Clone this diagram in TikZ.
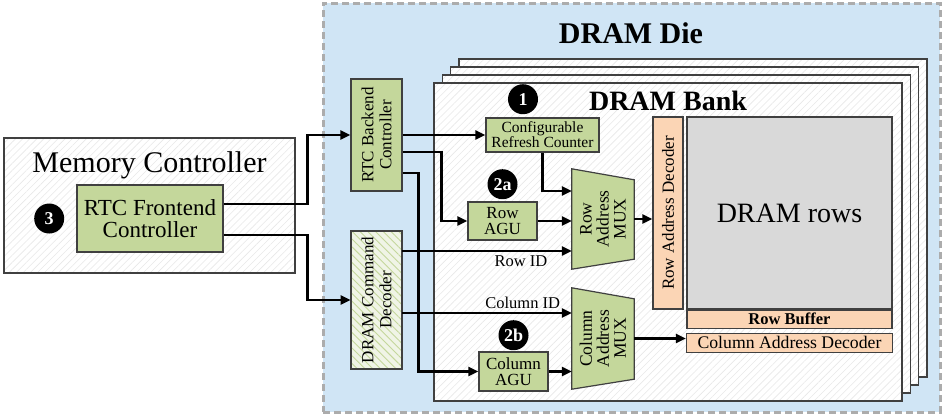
\documentclass[tikz,border=0pt]{standalone}
\usepackage{fontspec}
\setmainfont{Liberation Serif}
\usetikzlibrary{arrows.meta, positioning, calc, patterns.meta}

\definecolor{agugreen}{RGB}{196,215,155}
\definecolor{dieblue}{RGB}{208,229,245}
\definecolor{decpeach}{RGB}{251,213,181}
\definecolor{rowgray}{RGB}{217,217,217}
\definecolor{edgegray}{RGB}{64,64,64}
\definecolor{cmdbg}{RGB}{240,244,230}
\newcommand{\fsz}[2]{\fontsize{#1}{#2}\selectfont}

\begin{document}
\begin{tikzpicture}[x=1pt, y=-1pt,
	block/.style = {rectangle, draw=edgegray, line width=1.2pt, fill=agugreen, align=center, inner sep=0pt, font=\fsz{17}{16.5}},
	vtext/.style = {% rotated text inside a box
		label={[rotate=90, align=center, font=\fsz{17}{18}]center:#1}},
	hatched/.style = {preaction={fill=white}, pattern={Lines[angle=45, distance=5pt, line width=0.6pt]}, pattern color=black!9},
	bankbox/.style = {rectangle, draw=edgegray, line width=1.2pt, hatched, minimum width=468pt, minimum height=318pt},
	peach/.style = {block, fill=decpeach},
	muxbox/.style = {draw=edgegray, line width=1.2pt, fill=agugreen},
	muxtext/.style = {rotate=90, align=center, font=\fsz{17.5}{17}},
	num/.style = {circle, fill=black, text=white, inner sep=0pt, minimum size=30pt, font=\bfseries\fsz{18}{18}},
	arr/.style = {line width=2.5pt, -{Triangle[length=10pt, width=9pt]}}]

\useasboundingbox (0,0) rectangle (942,416);

% memory controller side
\node[rectangle, draw=edgegray, line width=1.2pt, hatched, minimum width=291pt, minimum height=135pt] (mc) at (149.5,205.5) {};
\node[anchor=base, font=\fsz{30}{30}] (mctitle) at (149.5,172) {Memory Controller};
\node[block, minimum width=146pt, minimum height=67pt, font=\fsz{23}{22}] (fe) at (150,218.5) {RTC Frontend\\Controller};
\node[num, left=12pt of fe] (n3) {3};

% DRAM die
\node[rectangle, draw=gray!65, line width=3pt, dash pattern=on 7pt off 4pt, fill=dieblue, minimum width=617pt, minimum height=409pt] (die) at (631.5,207.5) {};
\node[anchor=base, font=\bfseries\fsz{30}{30}] (dietitle) at (631,43) {DRAM Die};

% stacked banks
\foreach \k in {3,2,1}
	\node[bankbox] (bank\k) at ($(668,242)+(8.3*\k,-8*\k)$) {};
\node[bankbox] (bank) at (668,242) {};
\node[anchor=base, font=\bfseries\fsz{28}{28}] (banktitle) at (668,110) {DRAM Bank};

% controller blocks
\node[block, minimum width=51pt, minimum height=112pt, vtext={RTC Backend\\Controller}] (be) at (376.5,135) {};
\node[block, minimum width=51pt, minimum height=138pt, preaction={fill=cmdbg}, pattern={Lines[angle=-45, distance=5.5pt, line width=0.9pt]}, pattern color=agugreen, vtext={DRAM Command\\Decoder}] (dec) at (376.5,300) {};

% bank internals
\node[block, minimum width=113pt, minimum height=34pt, font=\fsz{15.5}{15}] (rc) at (542.5,135) {Configurable\\Refresh Counter};
\node[block, minimum width=69pt, minimum height=38pt] (ragu) at (502.5,221) {Row\\AGU};
\node[block, minimum width=69pt, minimum height=39pt] (cagu) at (513.5,371.5) {Column\\AGU};
\node[num, above=3pt of rc, xshift=-19.5pt] (n1) {1};
\node[num, above=2pt of ragu] (n2a) {2a};
\node[num, above=1pt of cagu] (n2b) {2b};

% multiplexers
\node[minimum width=62pt, minimum height=100pt, inner sep=0pt] (rmux) at (603,219) {};
\node[minimum width=62pt, minimum height=101pt, inner sep=0pt] (cmux) at (603,338.5) {};
\draw[muxbox] (rmux.north west) -- ($(rmux.north east)+(0,11)$) -- ($(rmux.south east)+(0,-10)$) -- (rmux.south west) -- cycle;
\draw[muxbox] (cmux.north west) -- ($(cmux.north east)+(0,11)$) -- ($(cmux.south east)+(0,-10)$) -- (cmux.south west) -- cycle;
\node[muxtext] at (rmux) {Row\\Address\\MUX};
\node[muxtext] at (cmux) {Column\\Address\\MUX};

% array
\node[peach, minimum width=30pt, minimum height=192pt, vtext={Row Address Decoder}] (rad) at (668,213) {};
\node[rectangle, draw=edgegray, line width=1.2pt, fill=rowgray, minimum width=205pt, minimum height=192pt, font=\fsz{28}{28}] (rows) at (789.5,213) {DRAM rows};
\node[peach, below=0pt of rows, minimum width=205pt, minimum height=18pt, font=\bfseries\fsz{16.5}{16}] (rb) {Row Buffer};
\node[peach, below=4pt of rb, minimum width=206pt, minimum height=19pt, font=\fsz{17.7}{17}] (cad) {Column Address Decoder};

% connections
\draw[arr] ([yshift=14.5pt]fe.east) -| ([xshift=-43pt]be.west) -- (be.west);
\draw[arr] ([yshift=-16.5pt]fe.east) -| ([xshift=-43pt]dec.west) -- (dec.west);
\draw[arr] (be.east) -- (rc.west);
\draw[arr] ([yshift=-17pt]be.east) -| ([xshift=-26pt]ragu.west) -- (ragu.west);
\draw[arr] ([yshift=-38pt]be.east) -| ([xshift=-60pt]cagu.west) -- (cagu.west);
\draw[arr] (rc.south) |- ([yshift=28pt]rmux.west);
\draw[arr] (ragu.east) -- (ragu.east -| rmux.west);
\draw[arr] ([yshift=49pt]dec.east) -- ([yshift=49pt]dec.east -| rmux.west)
	node[pos=0.7, below, font=\fsz{16.5}{16.5}] {Row ID};
\draw[arr] ([yshift=-13pt]dec.east) -- ([yshift=-13pt]dec.east -| cmux.west)
	node[pos=0.71, above, font=\fsz{16.5}{16.5}] {Column ID};
\draw[arr] (cagu.east) -- (cagu.east -| cmux.west);
\draw[arr] (rmux.east) -- (rmux.east -| rad.west);
\draw[arr] (cmux.east) -- (cmux.east -| cad.west);

\end{tikzpicture}
\end{document}
